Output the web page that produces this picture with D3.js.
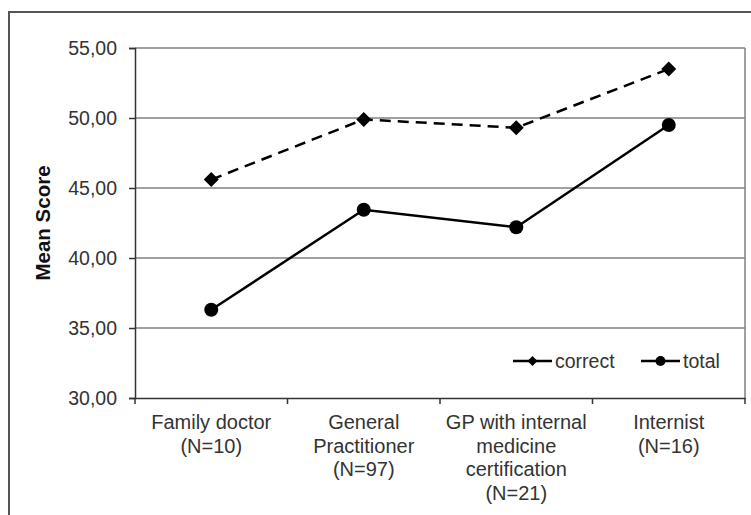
<!DOCTYPE html>
<html>
<head>
<meta charset="utf-8">
<script src="https://cdn.jsdelivr.net/npm/d3@7"></script>
<style>
  body { margin: 0; background: #fff; }
  text { font-family: "Liberation Sans", Arial, sans-serif; }
</style>
</head>
<body>
<svg id="chart" width="751" height="515"></svg>
<script>
var categories = ["Family doctor", "General Practitioner", "GP with internal medicine certification", "Internist"];
var categoryLines = [
    ["Family doctor", "(N=10)"],
    ["General", "Practitioner", "(N=97)"],
    ["GP with internal", "medicine", "certification", "(N=21)"],
    ["Internist", "(N=16)"]
];
var correctValues = [45.6, 49.9, 49.3, 53.5];
var totalValues = [36.3, 43.45, 42.2, 49.5];
var yTicks = [30, 35, 40, 45, 50, 55];

var svg = d3.select("#chart");
var plotLeft = 135, plotRight = 745, plotTop = 48, plotBottom = 398;

var x = d3.scaleBand().domain(categories).range([plotLeft, plotRight]).padding(0);
var y = d3.scaleLinear().domain([30, 55]).range([plotBottom, plotTop]);
var cx = function(i) { return x(categories[i]) + x.bandwidth() / 2; };

// outer frame
svg.append("rect")
    .attr("x", 9).attr("y", 12)
    .attr("width", 780).attr("height", 540)
    .attr("fill", "none")
    .attr("stroke", "#555")
    .attr("stroke-width", 2);

// gridlines (including top of plot)
svg.append("g").selectAll("line")
    .data(yTicks.filter(function(t) { return t > 30; }))
    .enter().append("line")
    .attr("x1", plotLeft).attr("x2", plotRight)
    .attr("y1", function(d) { return y(d); })
    .attr("y2", function(d) { return y(d); })
    .attr("stroke", "#808080")
    .attr("stroke-width", 1.5);

// right border of plot
svg.append("line")
    .attr("x1", plotRight).attr("x2", plotRight)
    .attr("y1", plotTop).attr("y2", plotBottom)
    .attr("stroke", "#808080")
    .attr("stroke-width", 1.5);

// y axis
var yAxis = svg.append("g")
    .attr("transform", "translate(" + plotLeft + ",0)")
    .call(d3.axisLeft(y).tickValues(yTicks).tickSize(6).tickPadding(12)
        .tickFormat(function(d) { return d.toFixed(2).replace(".", ","); }));
yAxis.selectAll("text")
    .attr("font-size", "19.5px")
    .attr("fill", "#333")
    .attr("font-family", "Liberation Sans, Arial, sans-serif");
yAxis.selectAll("line, path").attr("stroke", "#333").attr("stroke-width", 1.5);

// x axis
var xAxis = svg.append("g")
    .attr("transform", "translate(0," + plotBottom + ")")
    .call(d3.axisBottom(x).tickSize(0).tickSizeOuter(0).tickPadding(0));
xAxis.select("path").attr("stroke", "#333").attr("stroke-width", 1.5);
xAxis.selectAll(".tick text").each(function(d, i) {
    var t = d3.select(this).text(null)
        .attr("font-size", "20px")
        .attr("fill", "#333")
        .attr("font-family", "Liberation Sans, Arial, sans-serif")
        .attr("y", 0).attr("dy", null);
    categoryLines[i].forEach(function(line, j) {
        t.append("tspan")
            .attr("x", 0)
            .attr("y", 31 + j * 23.5)
            .text(line);
    });
});
// boundary ticks
var bounds = categories.map(function(c) { return x(c); }).concat([plotRight]);
xAxis.selectAll(".bound")
    .data(bounds)
    .enter().append("line")
    .attr("class", "bound")
    .attr("x1", function(d) { return d; })
    .attr("x2", function(d) { return d; })
    .attr("y1", 0).attr("y2", 6)
    .attr("stroke", "#333")
    .attr("stroke-width", 1.5);

// y axis title
svg.append("text")
    .attr("transform", "translate(50,223) rotate(-90)")
    .attr("text-anchor", "middle")
    .attr("font-size", "20.5px")
    .attr("font-weight", "bold")
    .attr("fill", "#111")
    .text("Mean Score");

var line = d3.line()
    .x(function(d, i) { return cx(i); })
    .y(function(d) { return y(d); });

// correct (dashed, diamonds)
svg.append("path")
    .datum(correctValues)
    .attr("d", line)
    .attr("fill", "none")
    .attr("stroke", "#000")
    .attr("stroke-width", 2.5)
    .attr("stroke-dasharray", "11,7");

var diamond = function(px, py, r) {
    return "M" + px + "," + (py - r) + "L" + (px + r) + "," + py + "L" + px + "," + (py + r) + "L" + (px - r) + "," + py + "Z";
};

svg.append("g").selectAll("path")
    .data(correctValues)
    .enter().append("path")
    .attr("d", function(d, i) { return diamond(cx(i), y(d), 7.5); })
    .attr("fill", "#000");

// total (solid, circles)
svg.append("path")
    .datum(totalValues)
    .attr("d", line)
    .attr("fill", "none")
    .attr("stroke", "#000")
    .attr("stroke-width", 2.5);

svg.append("g").selectAll("circle")
    .data(totalValues)
    .enter().append("circle")
    .attr("cx", function(d, i) { return cx(i); })
    .attr("cy", function(d) { return y(d); })
    .attr("r", 7)
    .attr("fill", "#000");

// legend
var legend = svg.append("g").attr("transform", "translate(0,361)");
var items = [
    { name: "correct", x: 513, marker: "diamond" },
    { name: "total", x: 641, marker: "circle" }
];
items.forEach(function(it) {
    legend.append("line")
        .attr("x1", it.x).attr("x2", it.x + 39)
        .attr("y1", 0).attr("y2", 0)
        .attr("stroke", "#000")
        .attr("stroke-width", 2.5);
    if (it.marker == "diamond") {
        legend.append("path").attr("d", diamond(it.x + 19.5, 0, 5)).attr("fill", "#000");
    } else {
        legend.append("circle").attr("cx", it.x + 19.5).attr("cy", 0).attr("r", 5).attr("fill", "#000");
    }
    legend.append("text")
        .attr("x", it.x + 42)
        .attr("y", 0)
        .attr("dy", "0.35em")
        .attr("font-size", "19.5px")
        .attr("fill", "#333")
        .text(it.name);
});
</script>
</body>
</html>
